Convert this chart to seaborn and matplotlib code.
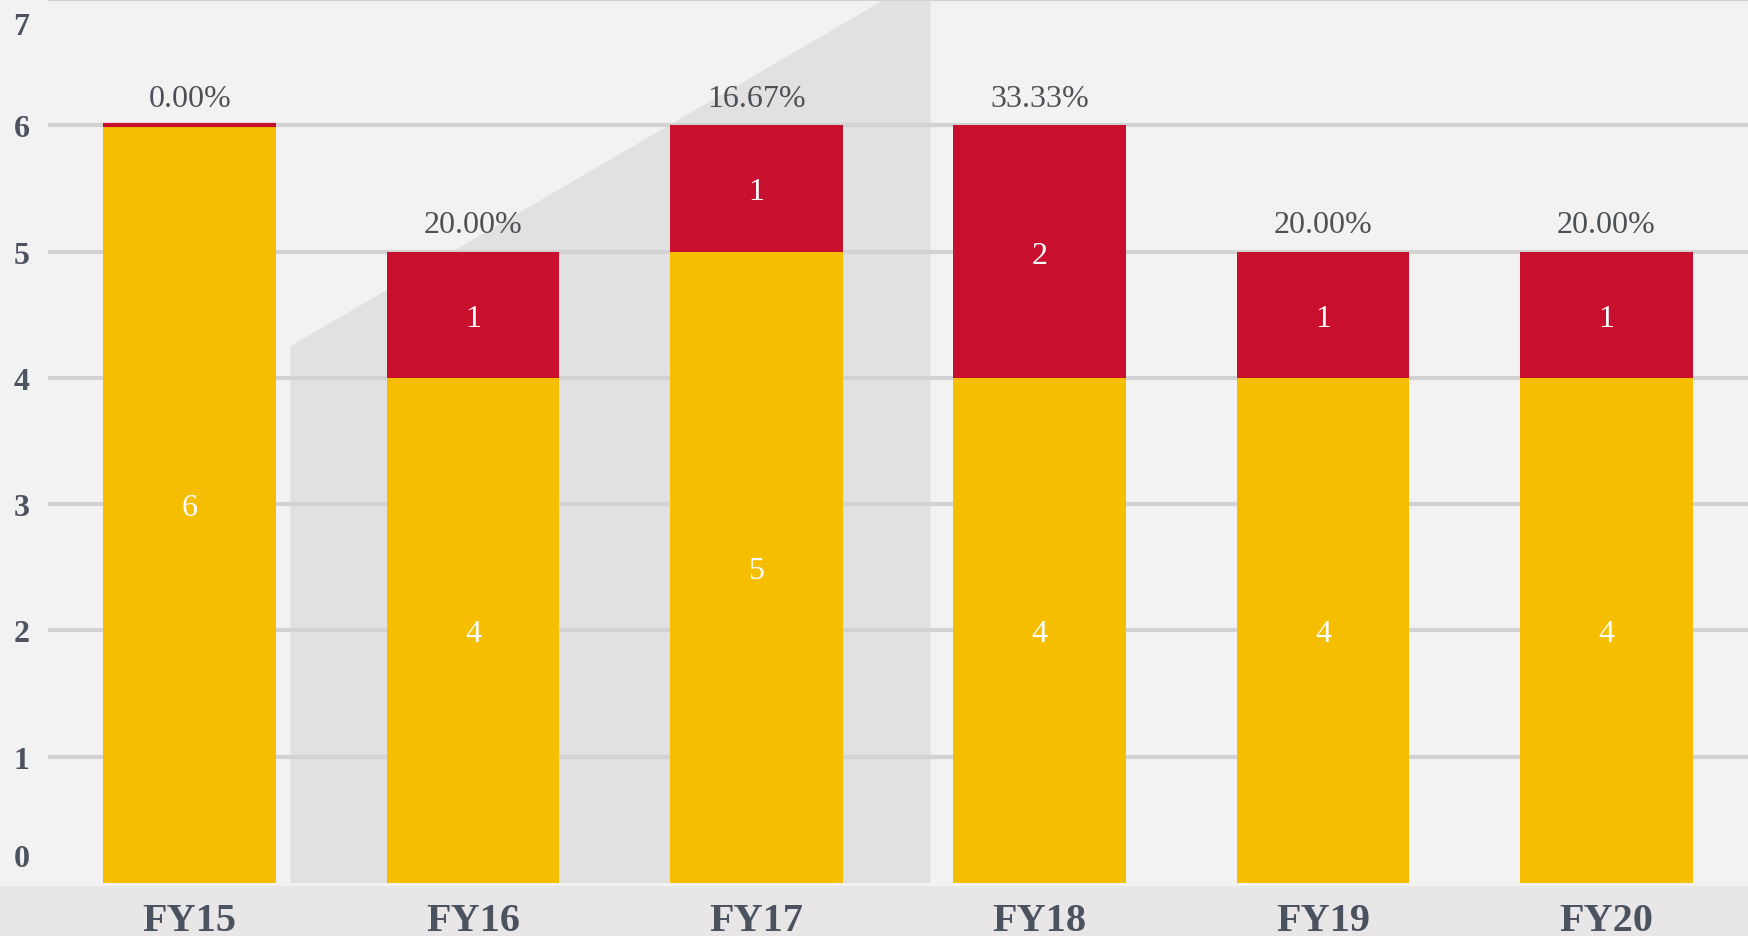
import matplotlib
matplotlib.use("Agg")
import matplotlib.pyplot as plt
from matplotlib.patches import Polygon, Rectangle
import numpy as np
import pandas as pd
import seaborn as sns

# ---- data -------------------------------------------------------------
years = ["FY15", "FY16", "FY17", "FY18", "FY19", "FY20"]
other_counts = [6, 4, 5, 4, 4, 4]
highlight_counts = [0, 1, 1, 2, 1, 1]
y_ticks = [0, 1, 2, 3, 4, 5, 6, 7]

# ---- style ------------------------------------------------------------
YELLOW = "#f5be00"
RED = "#c8102e"
BG = "#f3f2f3"
BAND = "#e8e6e6"
SHADE = "#e2e1e1"
GRID = "#d3d2d3"
AXIS_TXT = "#4b5260"
PCT_TXT = "#4d5155"
BAR_W = 0.61

sns.set_theme(style="white")
plt.rcParams["font.family"] = ["Liberation Serif", "DejaVu Serif"]

W, H = 1748, 937
fig = plt.figure(figsize=(W / 100, H / 100), dpi=100, facecolor=BG)

# grey strip under the category labels (kept behind the axes)
fig.patches.append(Rectangle((0, 0), 1, 50 / H, transform=fig.transFigure,
                             facecolor=BAND, edgecolor="none", zorder=-1))

left, bottom = 48 / W, 53 / H
ax = fig.add_axes([left, bottom, 1 - left, 1 - bottom])
ax.set_facecolor(BG)

df = pd.DataFrame({"year": years, "other": other_counts,
                   "highlight": highlight_counts})
df["total"] = df["other"] + df["highlight"]

# stacked bars: full total in red, lower segment overdrawn in yellow
sns.barplot(data=df, x="year", y="total", color=RED, saturation=1,
            width=BAR_W, errorbar=None, ax=ax, zorder=3, linewidth=0)
sns.barplot(data=df, x="year", y="other", color=YELLOW, saturation=1,
            width=BAR_W, errorbar=None, ax=ax, zorder=3, linewidth=0)

n = len(years)
red_bars = ax.patches[:n]
yellow_bars = ax.patches[n:2 * n]

# a zero red segment still shows as a thin cap on the bar
for p, h in zip(red_bars, df["highlight"]):
    if h == 0:
        ax.hlines(p.get_y() + p.get_height(), p.get_x(),
                  p.get_x() + p.get_width(), color=RED, lw=3, zorder=4)

# segment values and share of red on top
for p, o, h, t in zip(yellow_bars, df["other"], df["highlight"], df["total"]):
    xc = p.get_x() + p.get_width() / 2
    ax.text(xc, o / 2, f"{o}", ha="center", va="center_baseline",
            color="white", fontsize=23, zorder=5)
    if h > 0:
        ax.text(xc, o + h / 2, f"{h}", ha="center", va="center_baseline",
                color="white", fontsize=23, zorder=5)
    ax.annotate(f"{h / t * 100:.2f}%", (xc, t), xytext=(0, 9),
                textcoords="offset points", ha="center", va="bottom",
                fontsize=23, color=PCT_TXT, zorder=5)

# diagonal backdrop shape
ax.add_patch(Polygon([(0.355, -0.2), (0.355, 4.25), (2.456, 7.0),
                      (2.456, 7.5), (2.614, 7.5), (2.614, -0.2)],
                     closed=True, facecolor=SHADE, edgecolor="none",
                     zorder=0.2))

ax.set_xlim(-0.5, (W - 190) / 284.2)
ax.set_ylim(0, 7)
ax.set_yticks(y_ticks[1:])
ax.set_yticklabels([])
ax.yaxis.grid(True, color=GRID, lw=3)
ax.xaxis.grid(False)
ax.set_axisbelow(True)
for s in ax.spines.values():
    s.set_visible(False)

ax.set_xlabel("")
ax.set_ylabel("")
ax.set_xticks(range(n))
ax.set_xticklabels(years, fontsize=29, fontweight="bold", color=AXIS_TXT)
ax.tick_params(axis="x", which="major", length=0, pad=14)
ax.set_xticks(np.arange(-0.5, n, 1.0), minor=True)
ax.tick_params(axis="x", which="minor", length=9, width=1.5,
               color="white", direction="out")
ax.tick_params(axis="y", length=0)

# y labels, the end ones pulled inside the frame
shift = {0: 20, 7: -17}
ytrans = ax.get_yaxis_transform()
for v in y_ticks:
    ax.annotate(f"{v}", (0, v), xycoords=ytrans,
                xytext=(-19, shift.get(v, 0)), textcoords="offset points",
                ha="center", va="center_baseline", fontsize=23,
                fontweight="bold", color=AXIS_TXT, annotation_clip=False)

fig.savefig("out.png", dpi=100, facecolor=BG)
